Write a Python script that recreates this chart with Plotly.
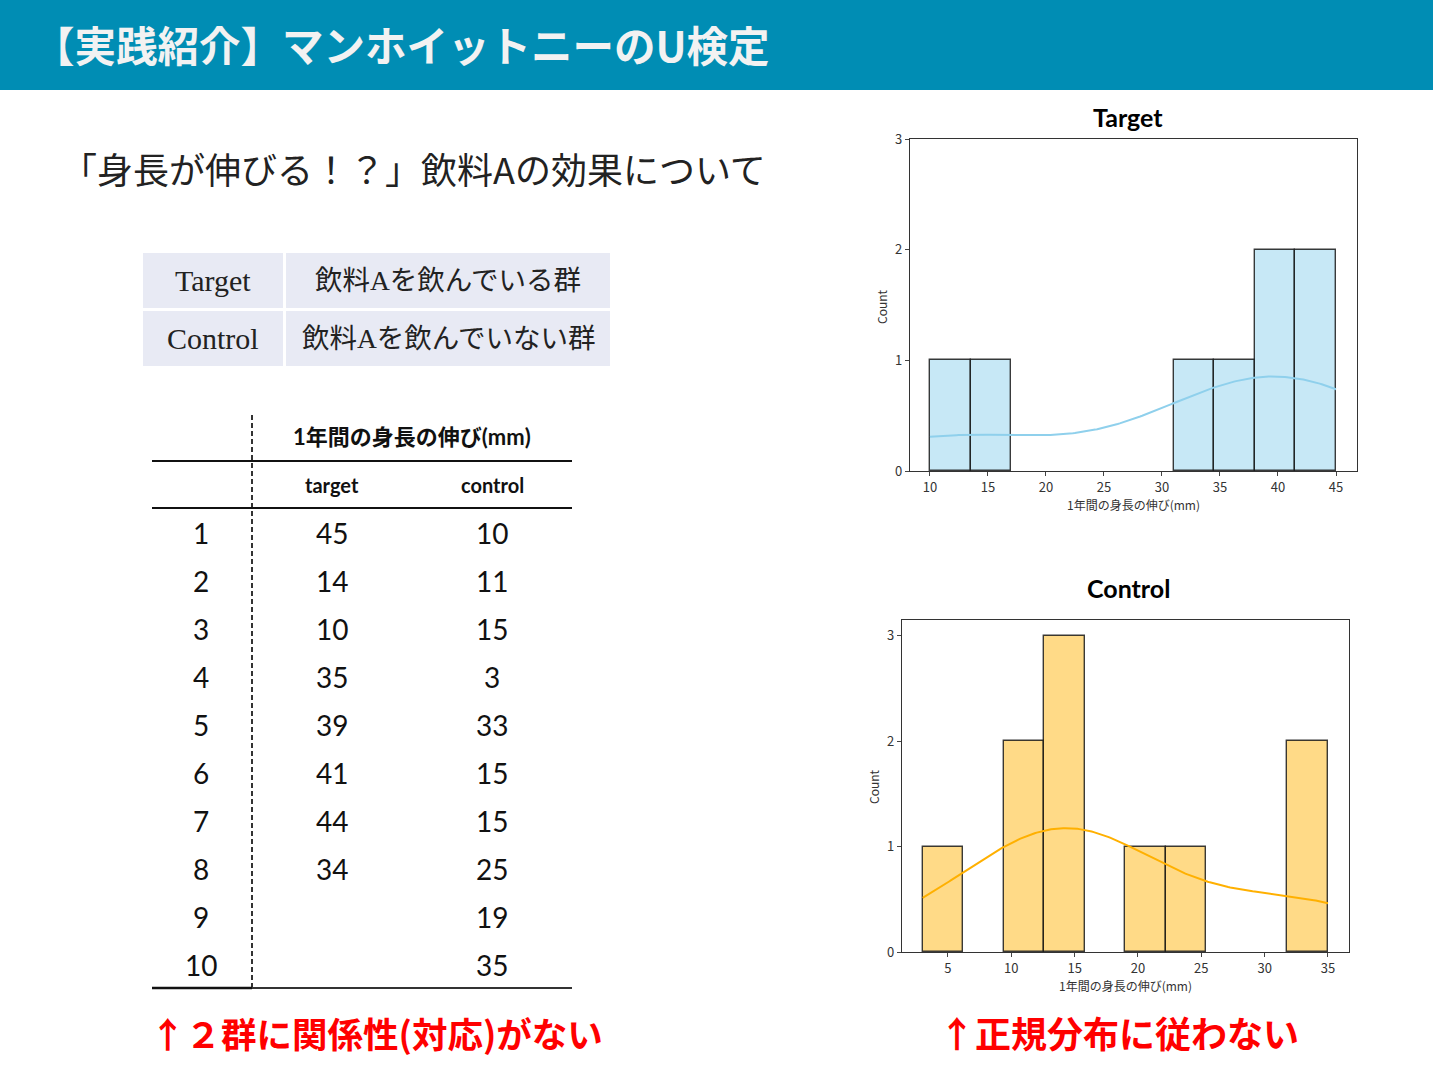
import numpy as np
import plotly.graph_objects as go

W, H = 1433, 1075

# ---------------- data ----------------
row_index = [1, 2, 3, 4, 5, 6, 7, 8, 9, 10]
target_growth = [45, 14, 10, 35, 39, 41, 44, 34]
control_growth = [10, 11, 15, 3, 33, 15, 15, 25, 19, 35]
group_names = ["Target", "Control"]
group_desc = ["飲料Aを飲んでいる群", "飲料Aを飲んでいない群"]
n_bins = 10

title_text = "【実践紹介】マンホイットニーのU検定"
subtitle_text = "「身長が伸びる！？」飲料Aの効果について"
table_header = "1年間の身長の伸び(mm)"
col_names = ["target", "control"]
xlabel = "1年間の身長の伸び(mm)"
note_left = "↑２群に関係性(対応)がない"
note_right = "↑正規分布に従わない"


def px(x):
    return x / W


def py(y):
    return 1 - y / H


def hist_and_kde(data):
    data = np.asarray(data, dtype=float)
    counts, edges = np.histogram(data, bins=n_bins)
    width = edges[1] - edges[0]
    centers = (edges[:-1] + edges[1:]) / 2
    keep = counts > 0
    n = len(data)
    bw = data.std(ddof=1) * n ** (-1 / 5)
    grid = np.linspace(data.min(), data.max(), 200)
    dens = np.exp(-0.5 * ((grid[:, None] - data[None, :]) / bw) ** 2).sum(1) / (n * bw * np.sqrt(2 * np.pi))
    return centers[keep], counts[keep], width, grid, dens * n * width


fig = go.Figure()

specs = [
    (target_growth, "x", "y", "rgba(135,206,235,0.47)", "#8FD0EC"),
    (control_growth, "x2", "y2", "rgba(255,176,0,0.47)", "#FFB000"),
]
for data, xa, ya, fill, line in specs:
    c, cnt, w, g, k = hist_and_kde(data)
    fig.add_trace(go.Bar(x=c, y=cnt, width=w, xaxis=xa, yaxis=ya,
                         marker=dict(color=fill, line=dict(color="rgba(25,25,25,0.85)", width=1.4)),
                         showlegend=False, hoverinfo="skip"))
    fig.add_trace(go.Scatter(x=g, y=k, xaxis=xa, yaxis=ya, mode="lines",
                             line=dict(color=line, width=2), showlegend=False, hoverinfo="skip"))

tickfont = dict(family="Noto Sans CJK JP, sans-serif", size=13, color="#333")
axis_common = dict(showline=True, mirror=True, linecolor="#333", linewidth=1.2, ticks="outside",
                   ticklen=4, tickcolor="#444", showgrid=False, zeroline=False, tickfont=tickfont,
                   automargin=False)

fig.update_layout(
    width=W, height=H, margin=dict(l=0, r=0, t=0, b=0, pad=0, autoexpand=False),
    paper_bgcolor="white", plot_bgcolor="white", bargap=0,
    xaxis=dict(domain=[px(910), px(1357)], range=[8.28, 46.81], tickvals=[10, 15, 20, 25, 30, 35, 40, 45],
               anchor="y", **axis_common),
    yaxis=dict(domain=[py(471), py(139)], range=[0, 3], tickvals=[0, 1, 2, 3], anchor="x", **axis_common),
    xaxis2=dict(domain=[px(902), px(1349)], range=[1.37, 36.66], tickvals=[5, 10, 15, 20, 25, 30, 35],
                anchor="y2", **axis_common),
    yaxis2=dict(domain=[py(952), py(620)], range=[0, 3.15], tickvals=[0, 1, 2, 3], anchor="x2", **axis_common),
)

shapes = []
ann = []

# header band
shapes.append(dict(type="rect", xref="paper", yref="paper", x0=0, x1=1, y0=py(90), y1=1,
                   fillcolor="#008DB4", line=dict(width=0), layer="below"))
ann.append(dict(text="<b>" + title_text + "</b>", x=px(31), y=py(44), xanchor="left", yanchor="middle",
                font=dict(family="Noto Sans CJK JP", size=41.5, color="#F2F2F2")))

ann.append(dict(text=subtitle_text, x=px(59), y=py(168), xanchor="left", yanchor="middle",
                font=dict(family="Noto Sans CJK JP", size=36, color="#222")))

# group table
cell_rows = [(253, 308), (311, 366)]
for (y0, y1), name, desc in zip(cell_rows, group_names, group_desc):
    shapes.append(dict(type="rect", xref="paper", yref="paper", x0=px(143), x1=px(283), y0=py(y1), y1=py(y0),
                       fillcolor="#E8EAF4", line=dict(width=0), layer="below"))
    shapes.append(dict(type="rect", xref="paper", yref="paper", x0=px(286), x1=px(610), y0=py(y1), y1=py(y0),
                       fillcolor="#E8EAF4", line=dict(width=0), layer="below"))
    ann.append(dict(text=name, x=px(213), y=py((y0 + y1) / 2), xanchor="center", yanchor="middle",
                    font=dict(family="Liberation Serif, Noto Sans CJK JP", size=30, color="#222")))
    ann.append(dict(text=desc, x=px(448), y=py((y0 + y1) / 2), xanchor="center", yanchor="middle",
                    font=dict(family="Liberation Serif, Noto Sans CJK JP", size=27.5, color="#222")))

# data table
shapes.append(dict(type="line", xref="paper", yref="paper", x0=px(252), x1=px(252), y0=py(988), y1=py(413),
                   line=dict(color="#333", width=2, dash="5px,3px")))
shapes.append(dict(type="line", xref="paper", yref="paper", x0=px(152), x1=px(572), y0=py(461), y1=py(461),
                   line=dict(color="#111", width=2)))
shapes.append(dict(type="line", xref="paper", yref="paper", x0=px(152), x1=px(572), y0=py(508), y1=py(508),
                   line=dict(color="#111", width=2)))
shapes.append(dict(type="line", xref="paper", yref="paper", x0=px(152), x1=px(252), y0=py(988), y1=py(988),
                   line=dict(color="#111", width=2.5)))
shapes.append(dict(type="line", xref="paper", yref="paper", x0=px(252), x1=px(572), y0=py(988), y1=py(988),
                   line=dict(color="#333", width=2)))
ann.append(dict(text="<b>" + table_header + "</b>", x=px(412), y=py(437), xanchor="center", yanchor="middle",
                font=dict(family="Lato, Noto Sans CJK JP", size=22, color="#111")))
for cx, cn in zip([332, 492], col_names):
    ann.append(dict(text="<b>" + cn + "</b>", x=px(cx), y=py(485), xanchor="center", yanchor="middle",
                    font=dict(family="Lato, Noto Sans CJK JP", size=20, color="#111")))
numfont = dict(family="Lato, sans-serif", size=28, color="#111")
for i, idx in enumerate(row_index):
    yy = 533 + i * 48
    ann.append(dict(text=str(idx), x=px(201), y=py(yy), xanchor="center", yanchor="middle", font=numfont))
    if i < len(target_growth):
        ann.append(dict(text=str(target_growth[i]), x=px(332), y=py(yy), xanchor="center", yanchor="middle",
                        font=numfont))
    if i < len(control_growth):
        ann.append(dict(text=str(control_growth[i]), x=px(492), y=py(yy), xanchor="center", yanchor="middle",
                        font=numfont))

# subplot titles & labels
hfont = dict(family="Lato, Noto Sans CJK JP", size=25, color="#000")
ann.append(dict(text="<b>Target</b>", x=px(1128), y=py(117), xanchor="center", yanchor="middle", font=hfont))
ann.append(dict(text="<b>Control</b>", x=px(1128), y=py(588), xanchor="center", yanchor="middle", font=hfont))
lfont = dict(family="Noto Sans CJK JP", size=12, color="#333")
ann.append(dict(text=xlabel, x=px(1133), y=py(504), xanchor="center", yanchor="middle", font=lfont))
ann.append(dict(text=xlabel, x=px(1125), y=py(985), xanchor="center", yanchor="middle", font=lfont))
ann.append(dict(text="Count", x=px(881), y=py(307), xanchor="center", yanchor="middle", textangle=-90, font=lfont))
ann.append(dict(text="Count", x=px(873), y=py(787), xanchor="center", yanchor="middle", textangle=-90, font=lfont))

# notes
rfont = dict(family="Noto Sans CJK JP", size=35.5, color="#FF0000")
ann.append(dict(text="<b>" + note_left + "</b>", x=px(148), y=py(1032), xanchor="left", yanchor="middle", font=rfont))
rfont2 = dict(family="Noto Sans CJK JP", size=36, color="#FF0000")
ann.append(dict(text="<b>" + note_right + "</b>", x=px(937), y=py(1032), xanchor="left", yanchor="middle", font=rfont2))

for a in ann:
    a.update(xref="paper", yref="paper", showarrow=False)

fig.update_layout(shapes=shapes, annotations=ann)
fig.write_html("out.html",
               post_script="document.body.style.margin='0';document.body.style.overflow='hidden';")
